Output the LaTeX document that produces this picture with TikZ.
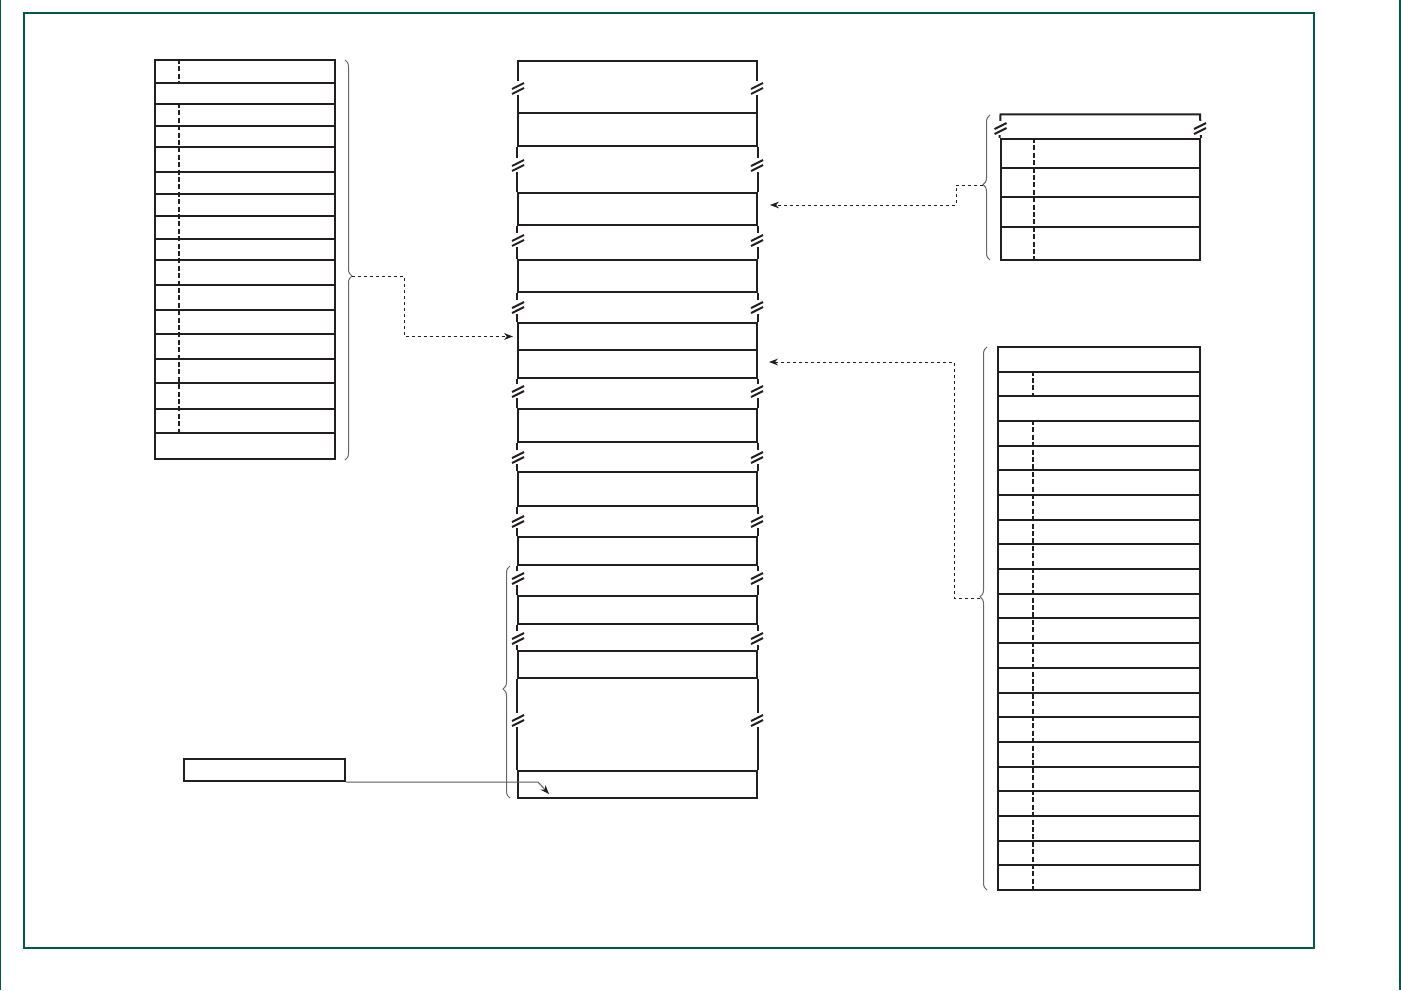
\documentclass[tikz,border=0pt]{standalone}
\usetikzlibrary{arrows.meta,positioning,calc,fit,decorations.pathreplacing}
\definecolor{frameteal}{RGB}{0,90,72}
\definecolor{ink}{RGB}{35,31,32}
% break mark on a vertical line
\newcommand{\brk}[2]{%
  \fill[white] (#1-6,#2-7) rectangle (#1+6,#2+7);
  \draw[line] (#1-6,#2+1) -- (#1+6,#2-5) (#1-6,#2+6) -- (#1+6,#2);}

\begin{document}
\begin{tikzpicture}[x=0.5pt, y=-0.5pt, >={Stealth[length=4.5pt,width=3.4pt]},
    line/.style={draw=ink, line width=1pt},
    cell/.style={line, inner sep=0pt, fit={#1}},
    coldash/.style={ink, line width=1pt, dash pattern=on 2.5pt off 1.2pt},
    link/.style={ink, line width=0.5pt, dash pattern=on 1.6pt off 1.4pt, ->, shorten >=2pt},
    brace/.style={gray!80!black, line width=0.5pt, decorate,
      decoration={brace, amplitude=3.5pt, aspect=#1}},
    frame/.style={frameteal, line width=0.6pt}]
\useasboundingbox (0,0) rectangle (1401,990);
\draw[frame] (24,13) rectangle (1314,948);
\draw[frame] (0.5,0) -- (0.5,990) (1400,0) -- (1400,990);

% left table
\foreach \y [count=\k, remember=\y as \p (initially 60)] in
    {83,104,126,147,172,194,216,239,260,285,310,334,359,383,409,433,459}
  \node[cell={(155,\p)(334.5,\y)}] (l\k) {};
\draw[coldash] ([xshift=12.5pt]l1.north west) -- ([xshift=12.5pt]l1.south west);
\draw[coldash] ([xshift=12.5pt]l3.north west) -- ([xshift=12.5pt]l16.south west);
\draw[brace=0.54] (345,60) -- (345,460);
\coordinate (lb) at (352,276);

% middle column
\draw[line] (518,113) -- (518,61.5) -- (757,61.5) -- (757,113);
\foreach \t/\b [count=\k] in {113/146,193/225,260/292,323/350,350/378,409/442,
    472/506,537/565,596/624,651/678,771/798}
  \node[cell={(518,\t)(757,\b)}] (m\k) {};
\foreach \a/\b in {1/2,2/3,3/4,5/6,6/7,7/8,8/9,9/10,10/11}
  \draw[line] (m\a.south west) -- (m\b.north west) (m\a.south east) -- (m\b.north east);
\foreach \y in {88,165,240,307,391,457,521,578,638,720}
  {\brk{518}{\y}\brk{757}{\y}}
\draw[brace=0.47] (510,798) -- (510,566);

\node[cell={(183.5,759)(345,781)}] (sb) {};

% top right table
\foreach \t/\b [count=\k] in {139/168,168/197,197/227,227/260}
  \node[cell={(1000.5,\t)(1200,\b)}] (t\k) {};
\draw[line] (t1.north west) -- (1000.5,114.5) -- (1200,114.5) -- (t1.north east);
\brk{1000.5}{128}\brk{1200}{128}
\draw[coldash] ([xshift=17pt]t1.north west) -- ([xshift=17pt]t4.south west);
\draw[brace=0.52] (990,260) -- (990,115);
\coordinate (tb) at (983,185);

% bottom right table
\foreach \k [evaluate=\k as \t using 347+(\k-1)*24.68,
    evaluate=\k as \b using 347+\k*24.68] in {1,...,22}
  \node[cell={(998,\t)(1200,\b)}] (b\k) {};
\draw[coldash] ([xshift=18pt]b2.north west) -- ([xshift=18pt]b2.south west);
\draw[coldash] ([xshift=18pt]b4.north west) -- ([xshift=18pt]b22.south west);
\draw[brace=0.54] (987,890) -- (987,347);
\coordinate (bb) at (980,598);

% connectors
\draw[link] (lb) -- ++(52,0) |- (m4.west);
\draw[link] (tb) -- ++(-27,0) |- ([shift={(4pt,2pt)}]m2.east);
\draw[link] (bb) -- ++(-26,0) |- ([shift={(3.5pt,1pt)}]m5.east);
\draw[gray!70!black, line width=0.5pt, -{Stealth[length=4.5pt,width=3.4pt,color=ink]}]
  (sb.south east) -- ++(192,0) -- ([shift={(16pt,2.5pt)}]m11.south west);
\end{tikzpicture}
\end{document}
